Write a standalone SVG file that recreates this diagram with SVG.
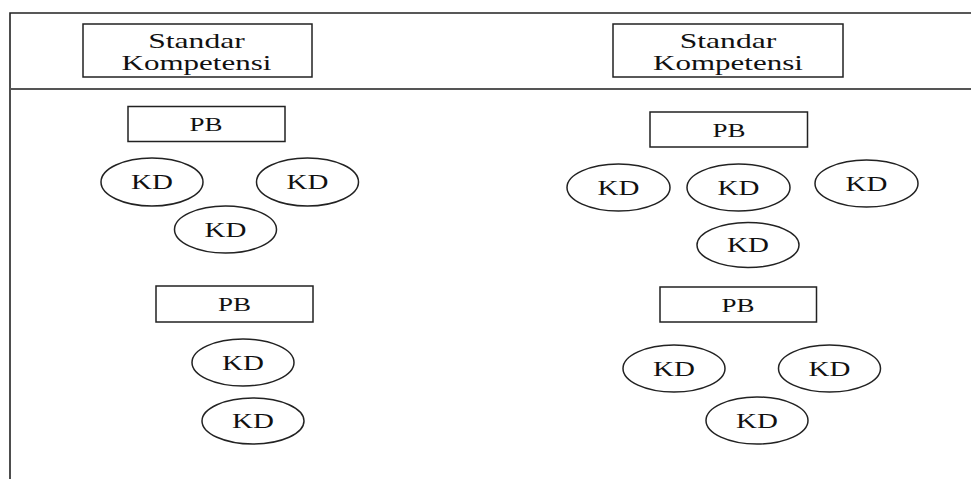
<svg xmlns="http://www.w3.org/2000/svg" width="971" height="479" viewBox="0 0 971 479">
<style>
.box{fill:#fff;stroke:#222;stroke-width:1.5}
.el{fill:#fff;stroke:#222;stroke-width:1.5}
.frame{stroke:#222;stroke-width:1.6;fill:none}
.sep{stroke:#555;stroke-width:2.2;fill:none}
text{font-family:"Liberation Serif","DejaVu Serif",serif;fill:#111;text-anchor:middle}
.sk{font-size:20px}
.pb{font-size:19px}
.kd{font-size:20px}
</style>
<rect width="971" height="479" fill="#fff"/>
<g id="frame">
<path class="frame" d="M10,479 V13 H971"/>
<path class="sep" d="M10,89 H971"/>
</g>
<g id="sk1"><rect class="box" x="83" y="24" width="229" height="53"/><text class="sk" transform="translate(196.5,47.5) scale(1.58,1)">Standar</text><text class="sk" transform="translate(196.5,69.5) scale(1.55,1)">Kompetensi</text></g>
<g id="sk2"><rect class="box" x="613" y="24" width="230" height="53"/><text class="sk" transform="translate(728,47.5) scale(1.58,1)">Standar</text><text class="sk" transform="translate(728,69.5) scale(1.55,1)">Kompetensi</text></g>

<g id="pb1"><rect class="box" x="128" y="106.5" width="157" height="35"/><text class="pb" transform="translate(206,131) scale(1.42,1)">PB</text></g>
<g id="kd1"><ellipse class="el" cx="152" cy="182" rx="51" ry="24"/><text class="kd" transform="translate(152,189) scale(1.45,1)">KD</text></g>
<g id="kd2"><ellipse class="el" cx="307.5" cy="182" rx="51" ry="24"/><text class="kd" transform="translate(307.5,189) scale(1.45,1)">KD</text></g>
<g id="kd3"><ellipse class="el" cx="225.5" cy="229.5" rx="51" ry="23.5"/><text class="kd" transform="translate(225.5,236.5) scale(1.45,1)">KD</text></g>

<g id="pb2"><rect class="box" x="156" y="286" width="157" height="36"/><text class="pb" transform="translate(234.5,311) scale(1.42,1)">PB</text></g>
<g id="kd4"><ellipse class="el" cx="243" cy="362.5" rx="51" ry="23.5"/><text class="kd" transform="translate(243,369.5) scale(1.45,1)">KD</text></g>
<g id="kd5"><ellipse class="el" cx="253" cy="421" rx="51" ry="23"/><text class="kd" transform="translate(253,428) scale(1.45,1)">KD</text></g>

<g id="pb3"><rect class="box" x="650" y="112" width="157.5" height="35"/><text class="pb" transform="translate(729,137) scale(1.42,1)">PB</text></g>
<g id="kd6"><ellipse class="el" cx="618.5" cy="187.5" rx="51.5" ry="23.5"/><text class="kd" transform="translate(618.5,194.5) scale(1.45,1)">KD</text></g>
<g id="kd7"><ellipse class="el" cx="738.5" cy="187.5" rx="51.5" ry="23.5"/><text class="kd" transform="translate(738.5,194.5) scale(1.45,1)">KD</text></g>
<g id="kd8"><ellipse class="el" cx="866.5" cy="183.5" rx="51.5" ry="23.5"/><text class="kd" transform="translate(866.5,190.5) scale(1.45,1)">KD</text></g>
<g id="kd9"><ellipse class="el" cx="748" cy="245" rx="51" ry="22.5"/><text class="kd" transform="translate(748,252) scale(1.45,1)">KD</text></g>

<g id="pb4"><rect class="box" x="660" y="287" width="156.5" height="35"/><text class="pb" transform="translate(738,311.5) scale(1.42,1)">PB</text></g>
<g id="kd10"><ellipse class="el" cx="674" cy="368.5" rx="51" ry="23.5"/><text class="kd" transform="translate(674,375.5) scale(1.45,1)">KD</text></g>
<g id="kd11"><ellipse class="el" cx="829.5" cy="368.5" rx="51" ry="23.5"/><text class="kd" transform="translate(829.5,375.5) scale(1.45,1)">KD</text></g>
<g id="kd12"><ellipse class="el" cx="757" cy="420.5" rx="51" ry="23.5"/><text class="kd" transform="translate(757,427.5) scale(1.45,1)">KD</text></g>
</svg>
